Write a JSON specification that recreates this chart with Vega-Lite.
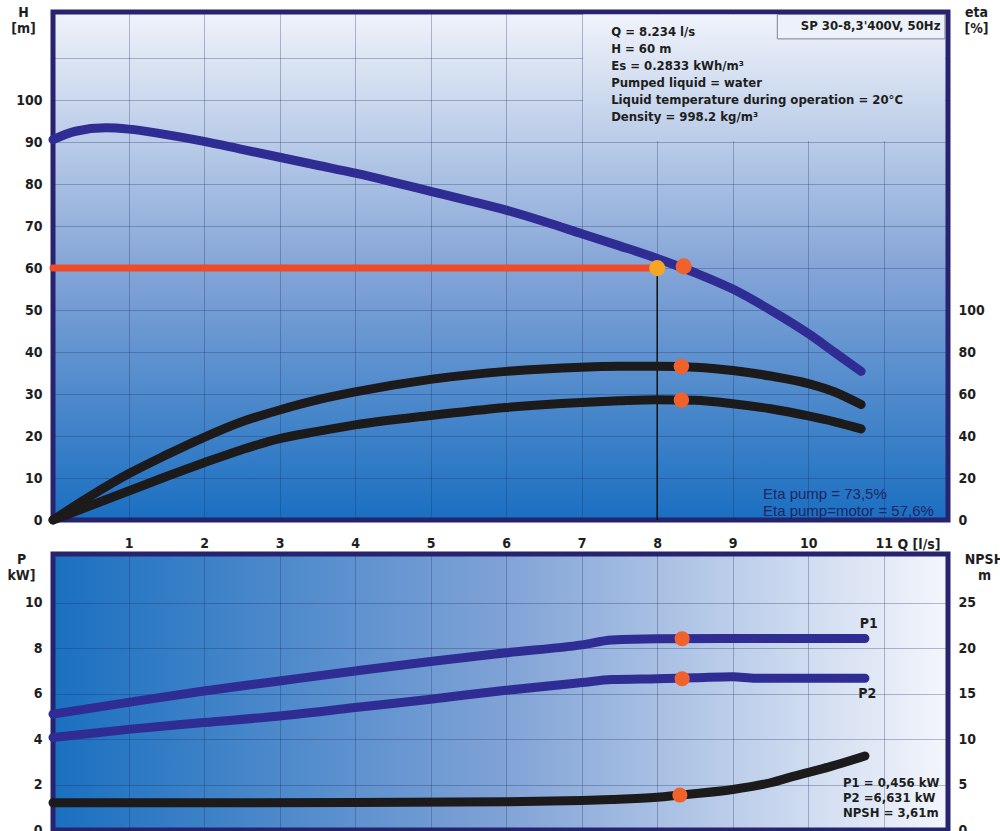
{
  "$schema": "https://vega.github.io/schema/vega-lite/v6.json",
  "background": "white",
  "padding": {"left": 4, "top": 2, "right": 0, "bottom": 0},
  "spacing": 34,
  "bounds": "flush",
  "config": {
    "font": "DejaVu Sans Condensed, sans-serif",
    "axis": {
      "labelFont": "DejaVu Sans Condensed, sans-serif",
      "labelFontSize": 14,
      "labelFontWeight": "bold",
      "labelColor": "#1e1e1e",
      "titleFont": "DejaVu Sans Condensed, sans-serif",
      "titleFontSize": 14,
      "titleFontWeight": "bold",
      "titleColor": "#1e1e1e",
      "titleLineHeight": 16,
      "tickSize": 0,
      "domain": false,
      "gridColor": "#1b2a5c",
      "gridOpacity": 0.3,
      "gridWidth": 1
    },
    "view": {"stroke": "#28236f", "strokeWidth": 5}
  },
  "datasets": {
    "head": [
      {"Q": 0, "H": 90.6}, {"Q": 0.3, "H": 92.6}, {"Q": 0.7, "H": 93.4}, {"Q": 1, "H": 93.1},
      {"Q": 1.5, "H": 91.8}, {"Q": 2, "H": 90.2}, {"Q": 2.5, "H": 88.3}, {"Q": 3, "H": 86.4},
      {"Q": 3.5, "H": 84.5}, {"Q": 4, "H": 82.6}, {"Q": 4.5, "H": 80.5}, {"Q": 5, "H": 78.3},
      {"Q": 5.5, "H": 76.1}, {"Q": 6, "H": 73.8}, {"Q": 6.5, "H": 71.1}, {"Q": 7, "H": 68.2},
      {"Q": 7.5, "H": 65.3}, {"Q": 8, "H": 62.3}, {"Q": 8.5, "H": 58.9}, {"Q": 9, "H": 55},
      {"Q": 9.5, "H": 50}, {"Q": 10, "H": 44.4}, {"Q": 10.35, "H": 39.9}, {"Q": 10.7, "H": 35.4}
    ],
    "duty": [{"Q": 0, "H": 60}, {"Q": 8, "H": 60}],
    "dutyQ": [{"Q": 8, "H": 0, "H2": 60}],
    "headPts": [{"Q": 8, "H": 60, "kind": "duty"}, {"Q": 8.35, "H": 60.4, "kind": "op"}],
    "infoBox": [{"Q": 7.02, "Q2": 11.81, "H": 90.3, "H2": 120.4}],
    "modelBox": [{"Q": 9.59, "Q2": 11.81, "H": 114.6, "H2": 120.4, "label": "SP 30-8,3'400V, 50Hz", "Qt": 11.75, "Ht": 117.7}],
    "infoText": [{"Q": 7.39, "H": 116.2, "lines": ["Q = 8.234 l/s", "H = 60 m", "Es = 0.2833 kWh/m³", "Pumped liquid = water", "Liquid temperature during operation = 20°C", "Density = 998.2 kg/m³"]}],
    "etaText": [{"Q": 9.4, "H": 6.2, "lines": ["Eta pump = 73,5%", "Eta pump=motor = 57,6%"]}],
    "eta": [
      {"Q": 0, "eta": 0, "curve": "pump"}, {"Q": 0.5, "eta": 11.5, "curve": "pump"}, {"Q": 1, "eta": 22, "curve": "pump"},
      {"Q": 1.5, "eta": 31, "curve": "pump"}, {"Q": 2, "eta": 39.4, "curve": "pump"}, {"Q": 2.5, "eta": 46.8, "curve": "pump"},
      {"Q": 3, "eta": 52.4, "curve": "pump"}, {"Q": 3.5, "eta": 57.2, "curve": "pump"}, {"Q": 4, "eta": 61, "curve": "pump"},
      {"Q": 5, "eta": 67, "curve": "pump"}, {"Q": 6, "eta": 70.8, "curve": "pump"}, {"Q": 7, "eta": 72.8, "curve": "pump"},
      {"Q": 7.5, "eta": 73.2, "curve": "pump"}, {"Q": 8, "eta": 73.3, "curve": "pump"}, {"Q": 8.5, "eta": 72.8, "curve": "pump"},
      {"Q": 9, "eta": 71.2, "curve": "pump"}, {"Q": 9.5, "eta": 68.6, "curve": "pump"}, {"Q": 10, "eta": 65, "curve": "pump"},
      {"Q": 10.35, "eta": 61, "curve": "pump"}, {"Q": 10.7, "eta": 55, "curve": "pump"},
      {"Q": 0, "eta": 0, "curve": "total"}, {"Q": 0.5, "eta": 6.9, "curve": "total"}, {"Q": 1, "eta": 13.8, "curve": "total"},
      {"Q": 1.5, "eta": 20.7, "curve": "total"}, {"Q": 2, "eta": 27.3, "curve": "total"}, {"Q": 2.5, "eta": 33.5, "curve": "total"},
      {"Q": 3, "eta": 38.8, "curve": "total"}, {"Q": 3.5, "eta": 42.2, "curve": "total"}, {"Q": 4, "eta": 45.3, "curve": "total"},
      {"Q": 5, "eta": 49.8, "curve": "total"}, {"Q": 6, "eta": 53.6, "curve": "total"}, {"Q": 7, "eta": 56, "curve": "total"},
      {"Q": 7.5, "eta": 56.8, "curve": "total"}, {"Q": 8, "eta": 57.3, "curve": "total"}, {"Q": 8.5, "eta": 57, "curve": "total"},
      {"Q": 9, "eta": 55.4, "curve": "total"}, {"Q": 9.5, "eta": 53, "curve": "total"}, {"Q": 10, "eta": 49.6, "curve": "total"},
      {"Q": 10.35, "eta": 46.8, "curve": "total"}, {"Q": 10.7, "eta": 43.4, "curve": "total"}
    ],
    "etaPts": [{"Q": 8.32, "eta": 73.1}, {"Q": 8.32, "eta": 57.2}],
    "power": [
      {"Q": 0, "P": 5.1, "curve": "P1"}, {"Q": 1, "P": 5.62, "curve": "P1"}, {"Q": 2, "P": 6.12, "curve": "P1"},
      {"Q": 3, "P": 6.56, "curve": "P1"}, {"Q": 4, "P": 7.0, "curve": "P1"}, {"Q": 5, "P": 7.42, "curve": "P1"},
      {"Q": 6, "P": 7.8, "curve": "P1"}, {"Q": 7, "P": 8.15, "curve": "P1"}, {"Q": 7.4, "P": 8.36, "curve": "P1"},
      {"Q": 8, "P": 8.42, "curve": "P1"}, {"Q": 9, "P": 8.43, "curve": "P1"}, {"Q": 10, "P": 8.43, "curve": "P1"},
      {"Q": 10.75, "P": 8.43, "curve": "P1"},
      {"Q": 0, "P": 4.07, "curve": "P2"}, {"Q": 1, "P": 4.43, "curve": "P2"}, {"Q": 2, "P": 4.73, "curve": "P2"},
      {"Q": 3, "P": 5.02, "curve": "P2"}, {"Q": 4, "P": 5.39, "curve": "P2"}, {"Q": 5, "P": 5.76, "curve": "P2"},
      {"Q": 6, "P": 6.15, "curve": "P2"}, {"Q": 7, "P": 6.49, "curve": "P2"}, {"Q": 7.4, "P": 6.62, "curve": "P2"},
      {"Q": 8, "P": 6.66, "curve": "P2"}, {"Q": 8.5, "P": 6.7, "curve": "P2"}, {"Q": 9, "P": 6.75, "curve": "P2"},
      {"Q": 9.3, "P": 6.68, "curve": "P2"}, {"Q": 10, "P": 6.68, "curve": "P2"}, {"Q": 10.75, "P": 6.68, "curve": "P2"}
    ],
    "powerPts": [{"Q": 8.33, "P": 8.42}, {"Q": 8.33, "P": 6.66}],
    "powerLabels": [{"Q": 10.8, "P": 9.07, "label": "P1"}, {"Q": 10.78, "P": 5.99, "label": "P2"}],
    "summaryText": [{"Q": 10.46, "P": 2.07, "lines": ["P1 = 0,456 kW", "P2 =6,631 kW", "NPSH = 3,61m"]}],
    "npsh": [
      {"Q": 0, "NPSH": 3.0}, {"Q": 2, "NPSH": 3.0}, {"Q": 4, "NPSH": 3.02}, {"Q": 6, "NPSH": 3.1},
      {"Q": 7, "NPSH": 3.25}, {"Q": 7.4, "NPSH": 3.35}, {"Q": 8, "NPSH": 3.6}, {"Q": 8.3, "NPSH": 3.85},
      {"Q": 9, "NPSH": 4.45}, {"Q": 9.5, "NPSH": 5.2}, {"Q": 9.8, "NPSH": 5.9}, {"Q": 10.3, "NPSH": 7.0},
      {"Q": 10.75, "NPSH": 8.15}
    ],
    "npshPts": [{"Q": 8.3, "NPSH": 3.85}]
  },
  "vconcat": [
    {
      "width": 895,
      "height": 508,
      "view": {
        "fill": {"gradient": "linear", "x1": 0, "y1": 0, "x2": 0, "y2": 1,
          "stops": [{"offset": 0, "color": "#f0f3fa"}, {"offset": 0.5, "color": "#85a5d7"}, {"offset": 1, "color": "#1a6fc1"}]},
        "stroke": "#28236f", "strokeWidth": 5
      },
      "encoding": {
        "x": {"field": "Q", "type": "quantitative",
          "scale": {"domain": [0, 11.85], "nice": false, "zero": false},
          "axis": {"values": [1, 2, 3, 4, 5, 6, 7, 8, 9, 10, 11], "grid": true, "labelPadding": 16,
            "title": "Q [l/s]", "titleAlign": "left", "titleBaseline": "middle", "titleX": 844, "titleY": 24}}
      },
      "resolve": {"scale": {"y": "independent"}, "axis": {"y": "independent"}},
      "layer": [
        {
          "encoding": {
            "y": {"field": "H", "type": "quantitative",
              "scale": {"domain": [0, 121], "nice": false, "zero": false},
              "axis": {"values": [0, 10, 20, 30, 40, 50, 60, 70, 80, 90, 100, 110], "grid": true, "labelPadding": 11,
                "labelExpr": "datum.value <= 100 ? datum.label : ''",
                "title": ["H", "[m]"], "titleAngle": 0, "titleAlign": "center", "titleBaseline": "top", "titleX": -30, "titleY": -7}}
          },
          "layer": [
            {
              "data": {"name": "infoBox"},
              "mark": {"type": "rect", "fill": {"gradient": "linear", "x1": 0, "y1": 0, "x2": 0, "y2": 1,
                "stops": [{"offset": 0, "color": "#f0f3fa"}, {"offset": 1, "color": "#bacce8"}]}},
              "encoding": {"x2": {"field": "Q2"}, "y2": {"field": "H2"}}
            },
            {
              "data": {"name": "modelBox"},
              "mark": {"type": "rect", "fill": "#edf1f9", "stroke": "#7d8191", "strokeWidth": 1},
              "encoding": {"x2": {"field": "Q2"}, "y2": {"field": "H2"}}
            },
            {
              "data": {"name": "modelBox"},
              "mark": {"type": "text", "align": "right", "baseline": "middle",
                "fontSize": 13, "fontWeight": "bold", "color": "#1e1e1e"},
              "encoding": {"x": {"field": "Qt", "type": "quantitative"}, "y": {"field": "Ht", "type": "quantitative"}, "text": {"field": "label"}}
            },
            {
              "data": {"name": "infoText"},
              "mark": {"type": "text", "align": "left", "baseline": "middle", "fontSize": 13, "fontWeight": "bold",
                "color": "#1e1e1e", "lineHeight": 17},
              "encoding": {"text": {"field": "lines"}}
            },
            {
              "data": {"name": "etaText"},
              "mark": {"type": "text", "align": "left", "baseline": "middle", "fontSize": 15,
                "font": "Liberation Sans, sans-serif", "color": "#1f2560", "lineHeight": 17},
              "encoding": {"text": {"field": "lines"}}
            },
            {
              "data": {"name": "head"},
              "mark": {"type": "line", "color": "#2f2c94", "strokeWidth": 9, "interpolate": "monotone", "strokeCap": "round"},
              "encoding": {}
            },
            {
              "data": {"name": "duty"},
              "mark": {"type": "line", "color": "#ee4b2b", "strokeWidth": 7, "strokeCap": "round"},
              "encoding": {}
            },
            {
              "data": {"name": "dutyQ"},
              "mark": {"type": "rule", "color": "#111111", "strokeWidth": 1.5},
              "encoding": {"y2": {"field": "H2"}}
            },
            {
              "data": {"name": "headPts"},
              "mark": {"type": "circle", "size": 260, "opacity": 1},
              "encoding": {"color": {"field": "kind", "type": "nominal", "legend": null,
                "scale": {"domain": ["duty", "op"], "range": ["#f6a623", "#f0612c"]}}}
            }
          ]
        },
        {
          "encoding": {
            "y": {"field": "eta", "type": "quantitative",
              "scale": {"domain": [0, 242], "nice": false, "zero": false},
              "axis": {"orient": "right", "values": [0, 20, 40, 60, 80, 100], "grid": false, "labelPadding": 10,
                "title": ["eta", "[%]"], "titleAngle": 0, "titleAlign": "center", "titleBaseline": "top", "titleX": 28, "titleY": -7}}
          },
          "layer": [
            {
              "data": {"name": "eta"},
              "mark": {"type": "line", "color": "#1c1a1a", "strokeWidth": 9, "interpolate": "monotone", "strokeCap": "round"},
              "encoding": {"detail": {"field": "curve"}}
            },
            {
              "data": {"name": "etaPts"},
              "mark": {"type": "circle", "size": 240, "color": "#f0612c", "opacity": 1},
              "encoding": {}
            }
          ]
        }
      ]
    },
    {
      "width": 895,
      "height": 276,
      "view": {
        "fill": {"gradient": "linear", "x1": 0, "y1": 0, "x2": 1, "y2": 0,
          "stops": [{"offset": 0, "color": "#1a70c0"}, {"offset": 0.5, "color": "#7fa2d6"}, {"offset": 1, "color": "#f4f6fc"}]},
        "stroke": "#28236f", "strokeWidth": 5
      },
      "encoding": {
        "x": {"field": "Q", "type": "quantitative",
          "scale": {"domain": [0, 11.85], "nice": false, "zero": false},
          "axis": {"values": [1, 2, 3, 4, 5, 6, 7, 8, 9, 10, 11], "grid": true, "labels": false, "ticks": false, "title": null}}
      },
      "resolve": {"scale": {"y": "independent"}, "axis": {"y": "independent"}},
      "layer": [
        {
          "encoding": {
            "y": {"field": "P", "type": "quantitative",
              "scale": {"domain": [0, 12.15], "nice": false, "zero": false},
              "axis": {"values": [0, 2, 4, 6, 8, 10], "grid": true, "labelPadding": 11,
                "title": ["P", "kW]"], "titleAngle": 0, "titleAlign": "center", "titleBaseline": "top", "titleX": -32, "titleY": -2}}
          },
          "layer": [
            {
              "data": {"name": "power"},
              "mark": {"type": "line", "color": "#2f2c94", "strokeWidth": 9, "interpolate": "monotone", "strokeCap": "round"},
              "encoding": {"detail": {"field": "curve"}}
            },
            {
              "data": {"name": "powerPts"},
              "mark": {"type": "circle", "size": 230, "color": "#f0612c", "opacity": 1},
              "encoding": {}
            },
            {
              "data": {"name": "powerLabels"},
              "mark": {"type": "text", "align": "center", "baseline": "middle", "fontSize": 14, "fontWeight": "bold", "color": "#1e1e1e"},
              "encoding": {"text": {"field": "label"}}
            },
            {
              "data": {"name": "summaryText"},
              "mark": {"type": "text", "align": "left", "baseline": "middle", "fontSize": 13, "fontWeight": "bold",
                "color": "#1e1e1e", "lineHeight": 15},
              "encoding": {"text": {"field": "lines"}}
            }
          ]
        },
        {
          "encoding": {
            "y": {"field": "NPSH", "type": "quantitative",
              "scale": {"domain": [0, 30.375], "nice": false, "zero": false},
              "axis": {"orient": "right", "values": [0, 5, 10, 15, 20, 25], "grid": false, "labelPadding": 10,
                "title": ["NPSH", "m"], "titleAngle": 0, "titleAlign": "center", "titleBaseline": "top", "titleX": 36, "titleY": -2}}
          },
          "layer": [
            {
              "data": {"name": "npsh"},
              "mark": {"type": "line", "color": "#1c1a1a", "strokeWidth": 9, "interpolate": "monotone", "strokeCap": "round"},
              "encoding": {}
            },
            {
              "data": {"name": "npshPts"},
              "mark": {"type": "circle", "size": 230, "color": "#f0612c", "opacity": 1},
              "encoding": {}
            }
          ]
        }
      ]
    }
  ]
}
